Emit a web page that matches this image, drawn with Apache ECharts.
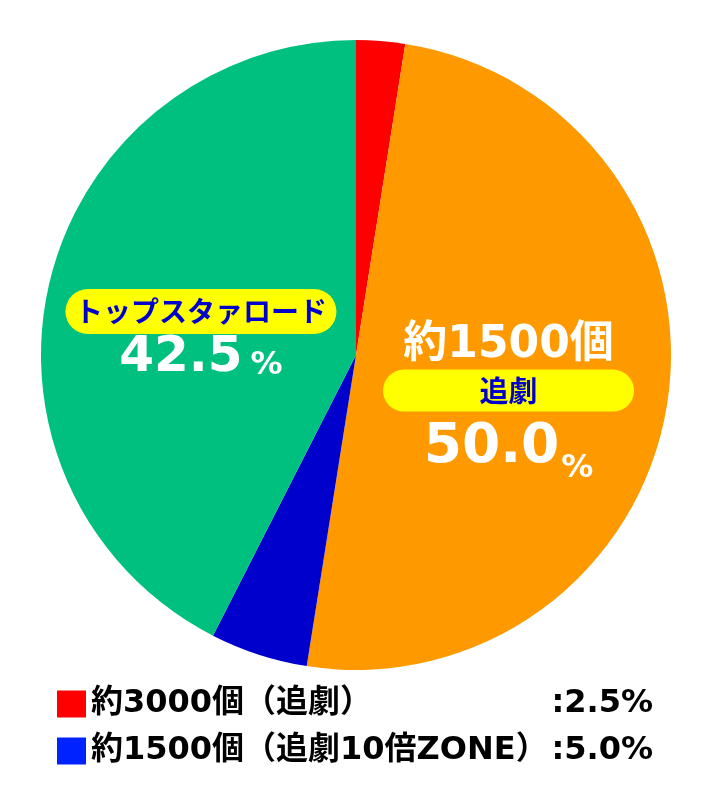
<!DOCTYPE html>
<html><head><meta charset="utf-8">
<script src="https://cdn.jsdelivr.net/npm/echarts@6/dist/echarts.min.js"></script>
<style>html,body{margin:0;padding:0;background:#fff}#c{width:712px;height:808px}</style>
</head><body><div id="c"></div>
<script>
const categories = ['約3000個（追劇）', '約1500個（追劇）', '約1500個（追劇10倍ZONE）', 'トップスタァロード'];
const values = [2.5, 50.0, 5.0, 42.5];
const colors = ['#ff0000', '#ff9900', '#0000cc', '#00c080'];
const legendNames = ['約3000個（追劇）', '約1500個（追劇10倍ZONE）'];
const legendValues = [':2.5%', ':5.0%'];
const legendColors = ['#ff0000', '#0022ff'];

const FONT = '"DejaVu Sans", "Noto Sans CJK JP", sans-serif';
const chart = echarts.init(document.getElementById('c'));

const boxBase = { backgroundColor: '#ffff00', color: '#0000cc', fontWeight: 'bold', fontFamily: '"Noto Sans CJK JP", sans-serif', align: 'center' };
const labelRich = {
  boxG: Object.assign({}, boxBase, { width: 271, height: 45, lineHeight: 45, borderRadius: 22.5, fontSize: 28 }),
  boxO: Object.assign({}, boxBase, { width: 251, height: 42, lineHeight: 42, borderRadius: 21, fontSize: 29 }),
  numG: { color: '#fff', fontSize: 50, lineHeight: 48, fontWeight: 'bold', fontFamily: FONT },
  pctG: { color: '#fff', fontSize: 32, lineHeight: 48, fontWeight: 'bold', fontFamily: FONT, verticalAlign: 'bottom', padding: [0, 0, 0, 8] },
  numO: { color: '#fff', fontSize: 55, lineHeight: 73, fontWeight: 'bold', fontFamily: FONT },
  pctO: { color: '#fff', fontSize: 32, lineHeight: 73, fontWeight: 'bold', fontFamily: FONT, verticalAlign: 'bottom', padding: [0, 0, 0, 2] },
  big: { color: '#fff', fontSize: 44, lineHeight: 48, fontWeight: 'bold', fontFamily: FONT }
};

const data = categories.map((name, i) => {
  const d = { name: name, value: values[i], itemStyle: { color: colors[i] } };
  if (i === 1) {
    d.label = { show: true, position: 'inside', formatter: '{big|約1500個}\n{boxO|追劇}\n{numO|' + values[i].toFixed(1) + '}{pctO|%}' };
  } else if (i === 3) {
    d.label = { show: true, position: 'inside', formatter: '{boxG|' + name + '}\n{numG|' + values[i].toFixed(1) + '}{pctG|%}' };
  } else {
    d.label = { show: false };
  }
  return d;
});

chart.setOption({
  animation: false,
  legend: {
    orient: 'vertical', left: 57, top: 688, padding: 0, itemWidth: 29, itemHeight: 27, itemGap: 15, icon: 'rect',
    selectedMode: false,
    data: legendNames.map((n, i) => ({ name: n, itemStyle: { color: legendColors[i] } })),
    formatter: function (name) {
      const i = legendNames.indexOf(name);
      return '{n|' + name + '}{v|' + legendValues[i] + '}';
    },
    textStyle: {
      rich: {
        n: { width: 459, fontSize: 32, lineHeight: 28, fontWeight: 'bold', color: '#000', fontFamily: FONT },
        v: { width: 103, align: 'right', fontSize: 32, lineHeight: 28, fontWeight: 'bold', color: '#000', fontFamily: FONT }
      }
    }
  },
  series: [{
    type: 'pie',
    center: [356, 355],
    radius: 315,
    startAngle: 90,
    clockwise: true,
    silent: true,
    emphasis: { disabled: true },
    itemStyle: { borderWidth: 0 },
    label: { rich: labelRich, align: 'center' },
    labelLine: { show: false },
    labelLayout: function (p) {
      if (p.dataIndex === 3) return { dx: 1, dy: 18 };
      if (p.dataIndex === 1) return { dx: -6, dy: 23 };
      return {};
    },
    data: data
  }]
});
</script></body></html>
